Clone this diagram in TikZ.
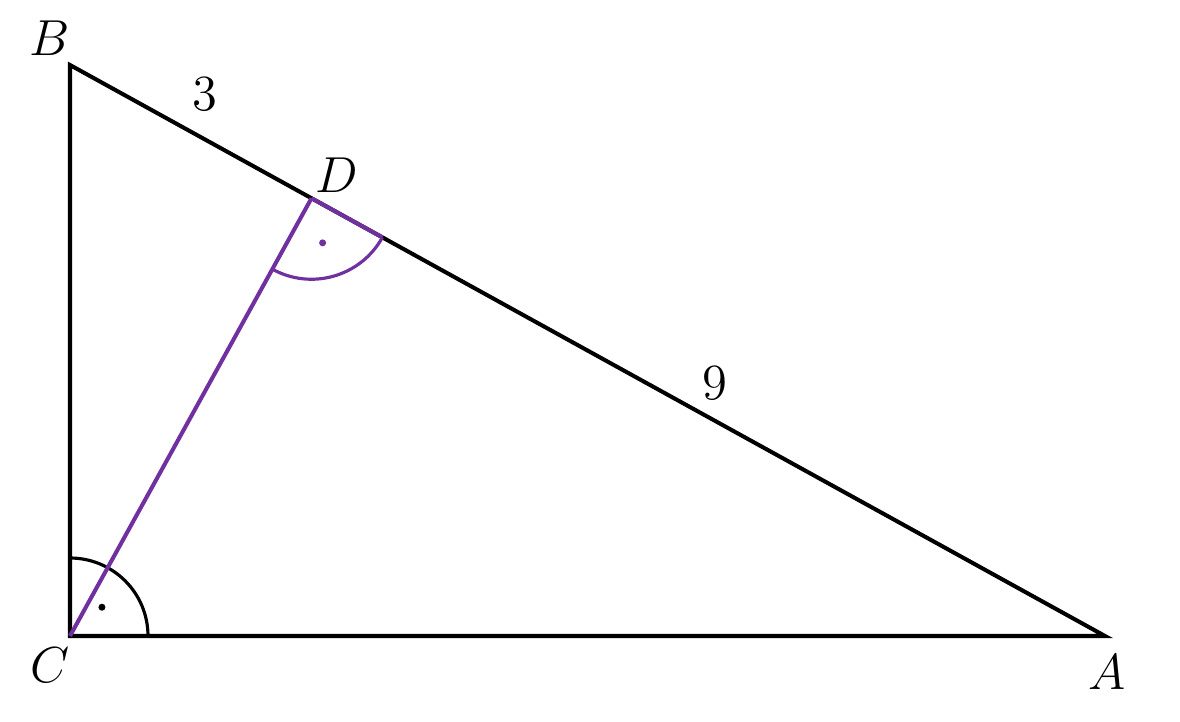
\documentclass[tikz,border=0pt]{standalone}
\usepackage[usenames,dvipsnames]{xcolor}
\usepackage{amsmath}
\usetikzlibrary{calc}
\definecolor{altpurple}{HTML}{7030A0}
\newcommand\pu[1]{{\color{altpurple}{#1}}}

\begin{document}
\begin{tikzpicture}[font=\fontsize{14.5}{17}\selectfont]
        \useasboundingbox (-0.70, -0.85) rectangle (11.10, 6.36);

        \coordinate (C) at (0, 0);
        \coordinate (B) at (0, 5.71);
        \coordinate (A) at (10.35, 0);
        \coordinate (D) at ($(B)!(C)!(A)$);

        \draw [line width=1.15pt, line join=miter] (B) -- (C) -- (A) -- cycle;
        \draw [line width=0.9pt] (0.78, 0) arc (0:90:0.78);
        \fill (42:0.43) circle (0.035);

        \draw [altpurple, line width=1.15pt] (C) -- (D);
        \draw [altpurple, line width=1.15pt] ($(D)+(-28.89:0.81)$) -- (D);
        \draw [altpurple, line width=0.9pt] ($(D)+(-28.89:0.81)$) arc (-28.89:-118.89:0.81);
        \fill [altpurple] ($(D)+(-76:0.46)$) circle (0.035);

        \node (lB) at (-0.20, 5.98) {$B$};
        \node (lC) at (-0.20, -0.29) {$C$};
        \node (lA) at (10.37, -0.36) {$A$};
        \node (lD) at (2.67, 4.61) {$D$};
        \node (l3) at (1.35, 5.42) {$3$};
        \node (l9) at (6.45, 2.53) {$9$};
      \end{tikzpicture}
\end{document}
